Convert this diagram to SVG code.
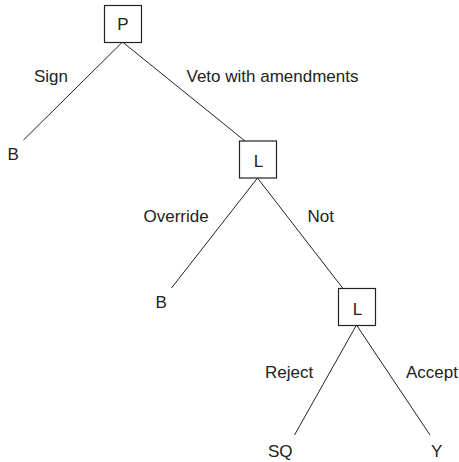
<svg xmlns="http://www.w3.org/2000/svg" width="459" height="462" viewBox="0 0 459 462">
<style>
.box{fill:#fff;stroke:#222;stroke-width:1.2}
.edge{stroke:#222;stroke-width:1;fill:none}
text{font-family:"Liberation Sans",Arial,sans-serif;font-size:17px;fill:#222}
.c{text-anchor:middle}
</style>
<rect width="459" height="462" fill="#fff"/>
<g id="connectors">
<line class="edge" x1="122.5" y1="42" x2="23.5" y2="140"/>
<line class="edge" x1="122.5" y1="42" x2="245" y2="141"/>
<line class="edge" x1="257.5" y1="178" x2="171.5" y2="288"/>
<line class="edge" x1="257.5" y1="178" x2="343" y2="288.5"/>
<line class="edge" x1="356.5" y1="325" x2="294.5" y2="435"/>
<line class="edge" x1="356.5" y1="325" x2="430" y2="435"/>
</g>
<g id="edge-labels">
<text x="34" y="81.5">Sign</text>
<text x="186.5" y="81.5">Veto with amendments</text>
<text x="143.5" y="221.5">Override</text>
<text x="307.5" y="221.5">Not</text>
<text x="265" y="377.5">Reject</text>
<text x="406" y="377.5">Accept</text>
</g>
<g id="node-P">
<rect class="box" x="104.5" y="5.5" width="37" height="37"/>
<text class="c" x="123" y="29.5">P</text>
</g>
<g id="node-L1">
<rect class="box" x="239.5" y="141" width="37" height="37"/>
<text class="c" x="258.5" y="167">L</text>
</g>
<g id="node-L2">
<rect class="box" x="338.5" y="288.5" width="37" height="37"/>
<text class="c" x="357.5" y="314.5">L</text>
</g>
<g id="leaf-B1"><text x="7.5" y="160">B</text></g>
<g id="leaf-B2"><text x="155.5" y="308">B</text></g>
<g id="leaf-SQ"><text x="268" y="456.5">SQ</text></g>
<g id="leaf-Y"><text x="431" y="456.5">Y</text></g>
</svg>
